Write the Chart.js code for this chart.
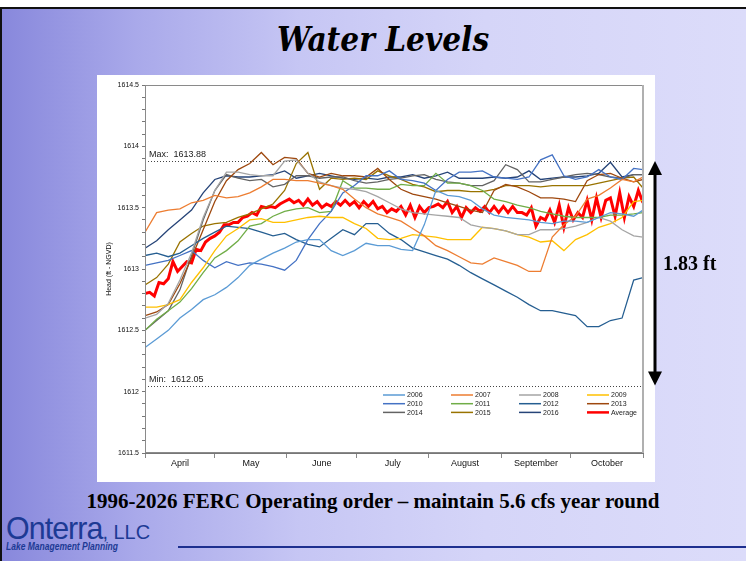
<!DOCTYPE html>
<html>
<head>
<meta charset="utf-8">
<title>Water Levels</title>
<script src="https://cdn.jsdelivr.net/npm/chart.js@4.4.1/dist/chart.umd.min.js"></script>
<style>
  html, body { margin: 0; padding: 0; }
  body { width: 746px; height: 561px; position: relative; overflow: hidden; background: #fff; }
  #slide {
    position: absolute; left: 0; top: 7px; width: 746px; height: 554px;
    box-sizing: border-box; border-top: 2px solid #111; border-left: 2px solid #111;
    background: linear-gradient(90deg, #8888dc 0%, #a9a9ea 18%, #c6c6f4 40%, #d5d5f8 65%, #dcdcfa 100%);
  }
  #title {
    position: absolute; left: 20px; top: 23px; width: 726px; text-align: center;
    font: italic bold 33px "DejaVu Serif", serif; font-stretch: condensed; line-height: 1; color: #000;
  }
  #chartBox { position: absolute; left: 97px; top: 75px; width: 649px; height: 407px; }
  #note {
    position: absolute; left: 0; top: 491px; width: 746px; text-align: center;
    font: bold 21px "Liberation Serif", "Times New Roman", serif; line-height: 1; color: #000;
  }
  #logo { position: absolute; left: 6px; top: 512px; color: #1d3a94; }
  #logo .name { font: 32px "Liberation Sans", Arial, sans-serif; line-height: 1; letter-spacing: -1px; transform: scaleX(0.95); transform-origin: left; white-space: nowrap; }
  #logo .name small { font-size: 21px; letter-spacing: 0; }
  #logo .tag { font: italic bold 10px "Liberation Sans", Arial, sans-serif; line-height: 1; margin-top: -2px; transform: scaleX(0.85); transform-origin: left; white-space: nowrap; }
  #rule { position: absolute; left: 178px; top: 546px; width: 568px; height: 2px; background: #1d2f8f; }
</style>
</head>
<body>
<div id="slide"></div>
<div id="title">Water Levels</div>
<div id="chartBox"><canvas id="levels" width="649" height="407"></canvas></div>
<div id="note">1996-2026 FERC Operating order – maintain 5.6 cfs year round</div>
<div id="logo"><div class="name">Onterra<small>, LLC</small></div><div class="tag">Lake Management Planning</div></div>
<div id="rule"></div>

<script>
// month layout (days counted from April 1)
let monthNames = ['April', 'May', 'June', 'July', 'August', 'September', 'October'];
let monthStarts = [0, 30, 61, 91, 122, 153, 183, 214];

// y axis
let yMin = 1611.5, yMax = 1614.5;
let maxLevel = 1613.88;
let minLevel = 1612.05;

// sample days for the yearly series
let days = [0,5,10,15,20,25,30,35,40,45,50,55,60,65,70,75,80,85,90,95,100,105,110,115,120,125,130,135,140,145,150,155,160,165,170,175,180,185,190,195,200,205,210,214];

let years = ['2006','2007','2008','2009','2010','2011','2012','2013','2014','2015','2016'];

let lvl2006 = [1612.36,1612.43,1612.50,1612.60,1612.67,1612.75,1612.79,1612.85,1612.93,1613.03,1613.08,1613.13,1613.17,1613.22,1613.24,1613.24,1613.15,1613.11,1613.15,1613.21,1613.19,1613.19,1613.16,1613.15,1613.36,1613.64,1613.60,1613.59,1613.56,1613.49,1613.44,1613.42,1613.41,1613.40,1613.38,1613.37,1613.39,1613.39,1613.38,1613.42,1613.46,1613.45,1613.43,1613.48];
let lvl2007 = [1613.30,1613.46,1613.48,1613.49,1613.54,1613.56,1613.60,1613.58,1613.59,1613.62,1613.67,1613.73,1613.73,1613.72,1613.72,1613.70,1613.68,1613.65,1613.57,1613.50,1613.45,1613.42,1613.39,1613.33,1613.27,1613.19,1613.15,1613.10,1613.05,1613.04,1613.09,1613.06,1613.03,1612.98,1612.98,1613.26,1613.36,1613.43,1613.57,1613.60,1613.66,1613.73,1613.71,1613.75];
let lvl2008 = [1612.60,1612.63,1612.72,1612.91,1613.13,1613.42,1613.64,1613.79,1613.79,1613.77,1613.76,1613.76,1613.88,1613.89,1613.78,1613.71,1613.68,1613.66,1613.65,1613.63,1613.59,1613.54,1613.49,1613.46,1613.45,1613.44,1613.43,1613.42,1613.36,1613.34,1613.33,1613.31,1613.28,1613.28,1613.32,1613.32,1613.33,1613.35,1613.38,1613.42,1613.39,1613.32,1613.27,1613.26];
let lvl2009 = [1612.69,1612.69,1612.71,1612.75,1612.89,1613.01,1613.15,1613.27,1613.33,1613.40,1613.41,1613.38,1613.38,1613.40,1613.42,1613.43,1613.42,1613.42,1613.37,1613.33,1613.25,1613.24,1613.25,1613.28,1613.27,1613.26,1613.24,1613.24,1613.24,1613.34,1613.33,1613.31,1613.28,1613.26,1613.22,1613.23,1613.15,1613.24,1613.28,1613.34,1613.37,1613.42,1613.55,1613.56];
let lvl2010 = [1613.03,1613.05,1613.07,1613.11,1613.15,1613.07,1613.01,1613.06,1613.03,1613.05,1613.04,1613.02,1612.99,1613.07,1613.24,1613.37,1613.47,1613.62,1613.68,1613.76,1613.76,1613.80,1613.73,1613.72,1613.70,1613.64,1613.73,1613.79,1613.79,1613.80,1613.75,1613.74,1613.73,1613.75,1613.89,1613.93,1613.76,1613.73,1613.75,1613.81,1613.75,1613.73,1613.82,1613.81];
let lvl2011 = [1612.50,1612.59,1612.66,1612.73,1612.84,1612.97,1613.09,1613.15,1613.23,1613.35,1613.37,1613.43,1613.47,1613.49,1613.50,1613.46,1613.47,1613.72,1613.66,1613.66,1613.65,1613.65,1613.69,1613.68,1613.68,1613.78,1613.70,1613.70,1613.68,1613.64,1613.57,1613.55,1613.52,1613.50,1613.47,1613.45,1613.43,1613.42,1613.42,1613.42,1613.44,1613.44,1613.45,1613.46];
let lvl2012 = [1613.11,1613.13,1613.10,1613.13,1613.19,1613.25,1613.30,1613.35,1613.34,1613.33,1613.30,1613.27,1613.29,1613.24,1613.20,1613.18,1613.25,1613.32,1613.28,1613.37,1613.37,1613.29,1613.24,1613.17,1613.14,1613.11,1613.08,1613.03,1612.97,1612.92,1612.87,1612.82,1612.77,1612.71,1612.66,1612.66,1612.64,1612.62,1612.53,1612.53,1612.58,1612.60,1612.91,1612.93];
let lvl2013 = [1612.62,1612.65,1612.71,1612.88,1613.09,1613.32,1613.55,1613.72,1613.81,1613.86,1613.95,1613.85,1613.91,1613.90,1613.78,1613.75,1613.78,1613.76,1613.76,1613.75,1613.82,1613.73,1613.65,1613.61,1613.59,1613.57,1613.54,1613.51,1613.48,1613.46,1613.64,1613.69,1613.67,1613.63,1613.58,1613.58,1613.57,1613.55,1613.72,1613.77,1613.78,1613.74,1613.71,1613.73];
let lvl2014 = [1612.50,1612.58,1612.66,1612.83,1613.11,1613.40,1613.64,1613.77,1613.74,1613.72,1613.73,1613.67,1613.69,1613.76,1613.76,1613.74,1613.75,1613.75,1613.72,1613.70,1613.71,1613.73,1613.74,1613.76,1613.77,1613.73,1613.71,1613.70,1613.68,1613.68,1613.72,1613.85,1613.81,1613.71,1613.71,1613.73,1613.75,1613.77,1613.78,1613.77,1613.75,1613.74,1613.77,1613.77];
let lvl2015 = [1612.87,1612.93,1613.04,1613.22,1613.29,1613.35,1613.37,1613.38,1613.42,1613.45,1613.49,1613.53,1613.64,1613.86,1613.95,1613.65,1613.74,1613.73,1613.74,1613.73,1613.80,1613.76,1613.73,1613.69,1613.67,1613.63,1613.64,1613.64,1613.63,1613.63,1613.65,1613.68,1613.68,1613.68,1613.67,1613.68,1613.68,1613.68,1613.68,1613.70,1613.72,1613.74,1613.75,1613.66];
let lvl2016 = [1613.17,1613.23,1613.32,1613.40,1613.48,1613.62,1613.73,1613.76,1613.75,1613.75,1613.76,1613.77,1613.80,1613.74,1613.76,1613.78,1613.76,1613.74,1613.73,1613.74,1613.73,1613.75,1613.75,1613.77,1613.74,1613.76,1613.79,1613.74,1613.74,1613.74,1613.75,1613.74,1613.75,1613.80,1613.73,1613.74,1613.75,1613.75,1613.76,1613.78,1613.87,1613.75,1613.77,1613.77];

// the average is read at every second day
let avgDays = [0,2,4,6,8,10,12,14,16,18,20,22,24,26,28,30,32,34,36,38,40,42,44,46,48,50,52,54,56,58,60,62,64,66,68,70,72,74,76,78,80,82,84,86,88,90,92,94,96,98,100,102,104,106,108,110,112,114,116,118,120,122,124,126,128,130,132,134,136,138,140,142,144,146,148,150,152,154,156,158,160,162,164,166,168,170,172,174,176,178,180,182,184,186,188,190,192,194,196,198,200,202,204,206,208,210,212,214];
let lvlAverage = [
  1612.80,1612.81,1612.78,1612.89,1612.88,1612.92,1613.06,1612.98,1613.02,1613.06,
  1613.05,1613.16,1613.15,1613.22,1613.25,1613.27,1613.30,1613.36,1613.36,1613.38,
  1613.38,1613.42,1613.43,1613.46,1613.44,1613.51,1613.50,1613.51,1613.50,1613.53,
  1613.55,1613.57,1613.54,1613.56,1613.52,1613.57,1613.52,1613.55,1613.50,1613.53,
  1613.51,1613.55,1613.52,1613.56,1613.52,1613.55,1613.50,1613.55,1613.51,1613.55,
  1613.49,1613.51,1613.46,1613.49,1613.47,1613.51,1613.44,1613.52,1613.42,1613.51,
  1613.46,1613.50,1613.51,1613.53,1613.50,1613.55,1613.46,1613.51,1613.42,1613.50,
  1613.46,1613.50,1613.47,1613.51,1613.46,1613.51,1613.46,1613.51,1613.46,1613.51,
  1613.46,1613.46,1613.44,1613.50,1613.35,1613.42,1613.40,1613.48,1613.38,1613.52,
  1613.34,1613.50,1613.40,1613.46,1613.42,1613.56,1613.40,1613.58,1613.42,1613.56,
  1613.58,1613.43,1613.62,1613.42,1613.59,1613.51,1613.64,1613.54
];

let yearLevels = [lvl2006, lvl2007, lvl2008, lvl2009, lvl2010, lvl2011, lvl2012, lvl2013, lvl2014, lvl2015, lvl2016];
let yearColors = ['#5B9BD5','#ED7D31','#A5A5A5','#FFC000','#4472C4','#70AD47','#255E91','#9E480E','#636363','#997300','#264478'];

let datasets = years.map(function (yr, i) {
  return {
    label: yr,
    data: days.map((d, j) => ({ x: d, y: yearLevels[i][j] })),
    borderColor: yearColors[i],
    borderWidth: 1.3
  };
});
datasets.push({
  label: 'Average',
  data: avgDays.map((d, j) => ({ x: d, y: lvlAverage[j] })),
  borderColor: '#FF0000',
  borderWidth: 3
});

// tick positions on x: month edges get a tick mark, month middles get the name
let monthMids = monthNames.map((m, i) => (monthStarts[i] + monthStarts[i + 1]) / 2);

function isMonthEdge(v) {
  return monthStarts.indexOf(v) >= 0;
}

// white panel behind the plot
const panelPlugin = {
  id: 'panel',
  beforeDraw(chart) {
    let ctx = chart.ctx;
    ctx.save();
    ctx.fillStyle = '#ffffff';
    ctx.fillRect(0, 0, 558, chart.height);
    ctx.restore();
  }
};

// dotted max / min lines with their labels
const limitsPlugin = {
  id: 'limits',
  beforeDatasetsDraw(chart) {
    let ctx = chart.ctx, area = chart.chartArea, ys = chart.scales.y;
    ctx.save();
    ctx.strokeStyle = '#444';
    ctx.lineWidth = 1;
    ctx.setLineDash([1, 2]);
    [['Max:  ', maxLevel], ['Min:  ', minLevel]].forEach(function (item) {
      let py = Math.round(ys.getPixelForValue(item[1])) + 0.5;
      ctx.beginPath();
      ctx.moveTo(area.left, py);
      ctx.lineTo(area.right, py);
      ctx.stroke();
      ctx.fillStyle = '#222';
      ctx.font = '9px "Liberation Sans", Arial, sans-serif';
      ctx.textBaseline = 'bottom';
      ctx.textAlign = 'left';
      ctx.fillText(item[0] + item[1].toFixed(2), area.left + 4, py - 2);
    });
    ctx.restore();
  },
  afterDatasetsDraw(chart) {
    let ctx = chart.ctx, a = chart.chartArea;
    ctx.save();
    ctx.strokeStyle = '#8a8a8a';
    ctx.lineWidth = 1;
    ctx.strokeRect(a.left + 0.5, a.top + 0.5, a.right - a.left - 1, a.bottom - a.top - 1);
    ctx.strokeStyle = '#b0b0b0';
    ctx.lineWidth = 2;
    ctx.beginPath();
    ctx.moveTo(a.right, a.top);
    ctx.lineTo(a.right, a.bottom);
    ctx.stroke();
    ctx.restore();
  }
};

// legend inside the plot, four columns
const innerLegend = {
  id: 'innerLegend',
  afterDraw(chart) {
    let ctx = chart.ctx, a = chart.chartArea;
    let x0 = a.right - 260, y0 = a.bottom - 58;
    ctx.save();
    ctx.font = '7px "Liberation Sans", Arial, sans-serif';
    ctx.textBaseline = 'middle';
    ctx.textAlign = 'left';
    chart.data.datasets.forEach(function (ds, i) {
      let x = x0 + (i % 4) * 68, y = y0 + Math.floor(i / 4) * 8.7;
      ctx.strokeStyle = ds.borderColor;
      ctx.lineWidth = ds.label === 'Average' ? 2.5 : 1.5;
      ctx.beginPath();
      ctx.moveTo(x, y);
      ctx.lineTo(x + 22, y);
      ctx.stroke();
      ctx.fillStyle = '#222';
      ctx.fillText(ds.label, x + 24, y + 0.5);
    });
    ctx.restore();
  }
};

// double arrow spanning max to min, with the range label
const rangeArrow = {
  id: 'rangeArrow',
  afterDraw(chart) {
    let ctx = chart.ctx, ys = chart.scales.y;
    let top = ys.getPixelForValue(maxLevel), bot = ys.getPixelForValue(minLevel);
    let x = 558;
    ctx.save();
    ctx.fillStyle = '#000';
    ctx.strokeStyle = '#000';
    ctx.lineWidth = 3;
    ctx.beginPath();
    ctx.moveTo(x, top + 10);
    ctx.lineTo(x, bot - 10);
    ctx.stroke();
    ctx.beginPath();
    ctx.moveTo(x, top);
    ctx.lineTo(x - 7, top + 14);
    ctx.lineTo(x + 7, top + 14);
    ctx.closePath();
    ctx.fill();
    ctx.beginPath();
    ctx.moveTo(x, bot);
    ctx.lineTo(x - 7, bot - 14);
    ctx.lineTo(x + 7, bot - 14);
    ctx.closePath();
    ctx.fill();
    ctx.font = 'bold 20px "Liberation Serif", "Times New Roman", serif';
    ctx.textBaseline = 'middle';
    ctx.textAlign = 'left';
    ctx.fillText((maxLevel - minLevel).toFixed(2) + ' ft', 566, (top + bot) / 2 - 8);
    ctx.restore();
  }
};

let chart = new Chart(document.getElementById('levels'), {
  type: 'line',
  data: { datasets: datasets },
  options: {
    responsive: false,
    animation: false,
    parsing: false,
    layout: { padding: { top: 10, right: 103, left: 0, bottom: 0 } },
    elements: { point: { radius: 0 }, line: { tension: 0, fill: false } },
    plugins: { legend: { display: false }, tooltip: { enabled: false } },
    scales: {
      x: {
        type: 'linear',
        min: 0,
        max: 214,
        afterBuildTicks: function (axis) {
          axis.ticks = monthStarts.concat(monthMids).map(v => ({ value: v }));
        },
        afterFit: function (axis) { axis.height = 29; },
        ticks: {
          autoSkip: false,
          maxRotation: 0,
          padding: 0,
          color: '#111',
          font: { family: '"Liberation Sans", Arial, sans-serif', size: 9 },
          callback: function (v) {
            let k = monthMids.indexOf(v);
            return k >= 0 ? monthNames[k] : '';
          }
        },
        grid: {
          drawOnChartArea: false,
          tickLength: 5,
          tickColor: ctx => (ctx.tick && isMonthEdge(ctx.tick.value)) ? '#888' : 'rgba(0,0,0,0)',
          color: ctx => (ctx.tick && isMonthEdge(ctx.tick.value)) ? '#888' : 'rgba(0,0,0,0)'
        },
        border: { display: true, color: '#777' }
      },
      y: {
        min: yMin,
        max: yMax,
        afterFit: function (axis) { axis.width = 48; },
        ticks: {
          stepSize: 0.1,
          autoSkip: false,
          padding: 3,
          color: '#111',
          font: { family: '"Liberation Sans", Arial, sans-serif', size: 7 },
          callback: function (v) {
            let half = Math.round(v * 2) / 2;
            return Math.abs(v - half) < 1e-6 ? String(half) : '';
          }
        },
        grid: { drawOnChartArea: false, tickLength: 3, color: '#777' },
        border: { display: true, color: '#777' },
        title: {
          display: true,
          text: 'Head (ft - NGVD)',
          color: '#111',
          padding: { top: 8, bottom: 0 },
          font: { family: '"Liberation Sans", Arial, sans-serif', size: 7 }
        }
      }
    }
  },
  plugins: [panelPlugin, limitsPlugin, innerLegend, rangeArrow]
});
</script>
</body>
</html>
